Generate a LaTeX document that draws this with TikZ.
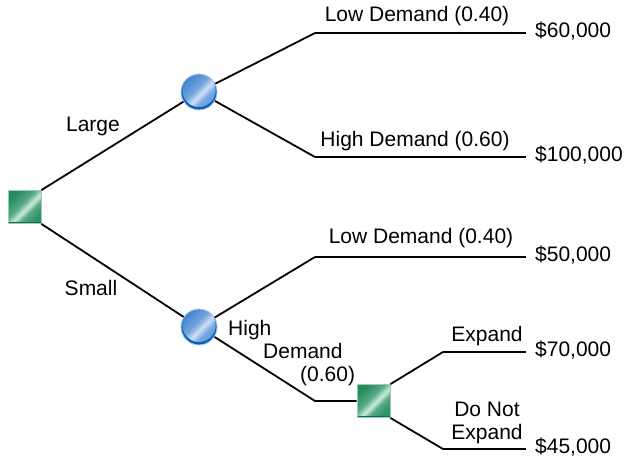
\documentclass[tikz,border=0pt]{standalone}
\usepackage{fontspec}
\setmainfont{Liberation Sans}
\definecolor{dtgreen}{RGB}{34,140,92}
\definecolor{dtgreenlt}{RGB}{200,236,216}
\definecolor{dtgreendk}{RGB}{18,112,66}
\definecolor{dtblue}{RGB}{66,132,208}
\definecolor{dtbluelt}{RGB}{205,223,246}
\definecolor{dtbluedk}{RGB}{8,96,190}
\pgfdeclarehorizontalshading{dtgsheen}{100bp}{color(0bp)=(dtgreen); color(25bp)=(dtgreen); color(44bp)=(dtgreen!75!white); color(54bp)=(dtgreenlt); color(62bp)=(dtgreen!75!white); color(75bp)=(dtgreen!95!white); color(100bp)=(dtgreen!95!white)}
\pgfdeclarehorizontalshading{dtbsheen}{100bp}{color(0bp)=(dtblue); color(25bp)=(dtblue); color(44bp)=(dtblue!75!white); color(54bp)=(dtbluelt); color(62bp)=(dtblue!70!white); color(75bp)=(dtblue!85!white); color(100bp)=(dtblue!85!white)}
\tikzset{
  dtdec/.style={draw=dtgreen!45!white, line width=0.8pt, minimum size=33pt, inner sep=0pt, shading=dtgsheen, shading angle=-45,
    path picture={\draw[dtgreendk, line width=3pt] (path picture bounding box.south west) -- (path picture bounding box.south east);}},
  dtchance/.style={circle, draw=dtblue!45!white, line width=0.8pt, minimum size=36pt, inner sep=0pt, shading=dtbsheen, shading angle=-45,
    path picture={\draw[dtbluedk, line width=2.5pt] ([yshift=1.6pt]path picture bounding box.center) circle (18pt);}},
  dtline/.style={line width=1.8pt, black},
  dtlab/.style={font=\fontsize{21}{23}\selectfont, align=center, inner sep=0pt, text=black}
}

\begin{document}
\begin{tikzpicture}[x=1pt,y=-1pt]
    \useasboundingbox (0,0) rectangle (624,464);

    % knees and free ends
    \coordinate (k1) at (315,33);  \coordinate (e1) at (526,33);
    \coordinate (k2) at (315,157); \coordinate (e2) at (526,157);
    \coordinate (k3) at (315,257); \coordinate (e3) at (526,257);
    \coordinate (k4) at (315,401);
    \coordinate (k5) at (443,352); \coordinate (e5) at (526,352);
    \coordinate (k6) at (443,449); \coordinate (e6) at (526,449);

    % branches
    \draw[dtline] (k1) -- (e1);
    \draw[dtline] (k2) -- (e2);
    \draw[dtline] (k3) -- (e3);
    \draw[dtline] (k5) -- (e5);
    \draw[dtline] (k6) -- (e6);

    \node[dtdec] (d1) at (24.5,207) {};
    \node[dtchance] (c1) at (199,92) {};
    \node[dtchance] (c2) at (199,327) {};
    \node[dtdec] (d2) at (373.5,401) {};

    \draw[dtline] (d1.north east) -- (c1);
    \draw[dtline] (d1.south east) -- (c2);
    \draw[dtline] (c1) -- (k1);
    \draw[dtline] (c1) -- (k2);
    \draw[dtline] (c2) -- (k3);
    \draw[dtline] (c2) -- (k4) -- (d2.west);
    \draw[dtline] (d2.north east) -- (k5);
    \draw[dtline] (d2.south east) -- (k6);

    % payoffs
    \foreach \e/\val in {e1/{\$60,000}, e2/{\$100,000}, e3/{\$50,000}, e5/{\$70,000}, e6/{\$45,000}}
        \node[dtlab, anchor=west] at ([xshift=9pt,yshift=2pt]\e) {\val};

    % branch labels
    \node[dtlab] at (93,126) {Large};
    \node[dtlab] at (91,288) {Small};
    \node[dtlab] at (417,16) {Low Demand (0.40)};
    \node[dtlab] at (415,141) {High Demand (0.60)};
    \node[dtlab] at (421,238) {Low Demand (0.40)};
    \node[dtlab, anchor=west, align=left] at (228,353) {High\\\hspace*{35pt}Demand\\\hspace*{72pt}(0.60)};
    \node[dtlab] at (487,336) {Expand};
    \node[dtlab] at (487,423) {Do Not\\Expand};
\end{tikzpicture}
\end{document}
